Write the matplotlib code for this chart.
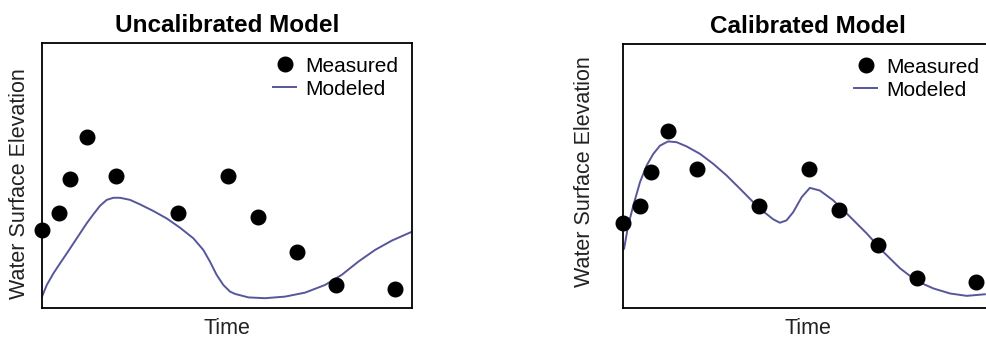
import numpy as np
import matplotlib.pyplot as plt

plt.rcParams["font.family"] = ["Liberation Sans", "DejaVu Sans"]

# sampling times of the gauge readings (arbitrary time units)
t_meas = [0.0, 0.47, 0.76, 1.21, 1.99, 3.68, 5.02, 5.85, 6.88, 7.95, 9.54]

# measured water surface elevation
wse_meas_uncal = [2.94, 3.60, 4.87, 6.46, 4.99, 3.60, 4.99, 3.42, 2.12, 0.87, 0.71]
wse_meas_cal = [3.22, 3.85, 5.14, 6.72, 5.25, 3.85, 5.25, 3.70, 2.38, 1.14, 0.97]

# modeled elevation, uncalibrated run
t_mod_uncal = [0.0, 0.13, 0.31, 0.49, 0.67, 0.85, 1.03, 1.21, 1.39, 1.57, 1.75,
               1.93, 2.11, 2.38, 2.65, 3.01, 3.37, 3.73, 4.09, 4.36, 4.54, 4.72,
               4.90, 5.08, 5.22, 5.58, 6.03, 6.57, 7.11, 7.65, 8.10, 8.55, 9.0,
               9.45, 10.0]
wse_mod_uncal = [0.43, 0.87, 1.31, 1.69, 2.06, 2.44, 2.82, 3.20, 3.54, 3.86, 4.08,
                 4.16, 4.16, 4.08, 3.91, 3.66, 3.38, 3.03, 2.63, 2.19, 1.75, 1.25,
                 0.87, 0.62, 0.53, 0.40, 0.37, 0.43, 0.58, 0.87, 1.25, 1.75, 2.19,
                 2.54, 2.88]

# modeled elevation, calibrated run
t_mod_cal = [0.03, 0.14, 0.28, 0.46, 0.64, 0.82, 1.0, 1.22, 1.45, 1.72, 2.08,
             2.44, 2.80, 3.16, 3.52, 3.79, 4.06, 4.24, 4.42, 4.60, 4.83, 5.05,
             5.32, 5.68, 6.14, 6.59, 7.04, 7.49, 7.94, 8.39, 8.84, 9.29, 9.78]
wse_mod_cal = [2.25, 3.13, 3.89, 4.77, 5.40, 5.84, 6.15, 6.31, 6.28, 6.12, 5.84,
               5.46, 5.02, 4.52, 4.01, 3.66, 3.36, 3.23, 3.32, 3.63, 4.20, 4.55,
               4.45, 4.08, 3.45, 2.82, 2.12, 1.50, 1.02, 0.74, 0.55, 0.46, 0.52]

line_colour = "#56569a"

fig = plt.figure(figsize=(9.86, 3.42), dpi=100)
ax_u = fig.add_axes([42 / 986, 34 / 342, 370 / 986, 265 / 342])
ax_c = fig.add_axes([623 / 986, 34 / 342, 370 / 986, 264 / 342])

panels = [
    (ax_u, "Uncalibrated Model", wse_meas_uncal, t_mod_uncal, wse_mod_uncal, -0.032, 0.47),
    (ax_c, "Calibrated Model", wse_meas_cal, t_mod_cal, wse_mod_cal, -0.076, 0.515),
]

for ax, title, meas, t_mod, mod, lx, ly in panels:
    ax.plot(t_meas, meas, "o", color="black", markersize=10.5, label="Measured",
            clip_on=False, zorder=3)
    ax.plot(t_mod, mod, "-", color=line_colour, lw=1.4, label="Modeled", zorder=2,
            solid_joinstyle="round")
    ax.set_xlim(0, 10)
    ax.set_ylim(0, 10)
    ax.set_xticks([])
    ax.set_yticks([])
    for s in ax.spines.values():
        s.set_linewidth(1.3)
    ax.set_title(title, fontsize=17.5, fontweight="bold", pad=8)
    ax.set_xlabel("Time", fontsize=15.5, labelpad=7, color="#222222")
    ax.set_ylabel("Water Surface Elevation", fontsize=15.5, color="#222222")
    ax.yaxis.set_label_coords(lx, ly)
    ax.legend(loc="upper right", bbox_to_anchor=(1.0, 1.0), frameon=False,
              fontsize=15, handlelength=1.1, handletextpad=0.45,
              labelspacing=0.2, borderaxespad=0.25, markerscale=1.0)

fig.savefig("out.png", dpi=100)
